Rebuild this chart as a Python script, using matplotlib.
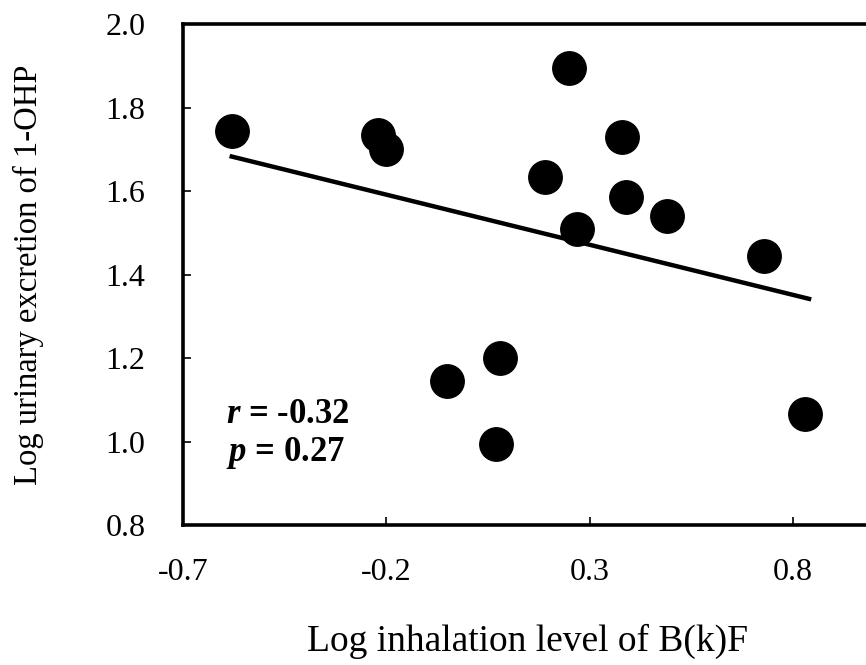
import matplotlib
matplotlib.use("Agg")
import matplotlib.pyplot as plt

# log inhalation level of B(k)F vs log urinary 1-OHP
logBkF = [-0.58, -0.22, -0.20, -0.05, 0.08, 0.07, 0.19, 0.25, 0.27, 0.38, 0.39, 0.49, 0.73, 0.83]
logOHP = [1.745, 1.735, 1.70, 1.145, 1.20, 0.995, 1.635, 1.895, 1.51, 1.73, 1.585, 1.54, 1.445, 1.065]

# regression line end points
line_x = [-0.58, 0.84]
line_y = [1.683, 1.342]

xticks = [-0.7, -0.2, 0.3, 0.8]
yticks = [0.8, 1.0, 1.2, 1.4, 1.6, 1.8, 2.0]

plt.rcParams['font.family'] = ['Liberation Serif', 'DejaVu Serif']
plt.rcParams['mathtext.fontset'] = 'custom'
plt.rcParams['mathtext.it'] = 'Liberation Serif:italic:bold'
plt.rcParams['mathtext.rm'] = 'Liberation Serif:bold'

fig = plt.figure(figsize=(8.66, 6.65), dpi=100)
ax = fig.add_axes([0.2113, 0.2105, 0.7957, 0.753])

ax.plot(line_x, line_y, color='black', lw=3.2, zorder=2)
ax.scatter(logBkF, logOHP, s=580, color='black', zorder=3)

ax.set_xlim(-0.7, 0.995)
ax.set_ylim(0.8, 2.0)
ax.set_xticks(xticks)
ax.set_xticklabels(['-0.7', '-0.2', '0.3', '0.8'])
ax.set_yticks(yticks)
ax.set_yticklabels(['%.1f' % v for v in yticks])
ax.tick_params(direction='in', length=6, width=1.2, labelsize=23)
ax.tick_params(axis='x', pad=24)
ax.tick_params(axis='y', pad=27)

for s in ax.spines.values():
    s.set_linewidth(2.6)

ax.set_xlabel('Log inhalation level of B(k)F', fontsize=27, labelpad=26)
ax.set_ylabel('Log urinary excretion of 1-OHP', fontsize=23.5, labelpad=44)

ax.text(-0.595, 1.065, r'$r$ = -0.32', fontsize=25, fontweight='bold', va='center')
ax.text(-0.595, 0.972, r'$p$ = 0.27', fontsize=25, fontweight='bold', va='center')

fig.savefig('out.png', dpi=100)
